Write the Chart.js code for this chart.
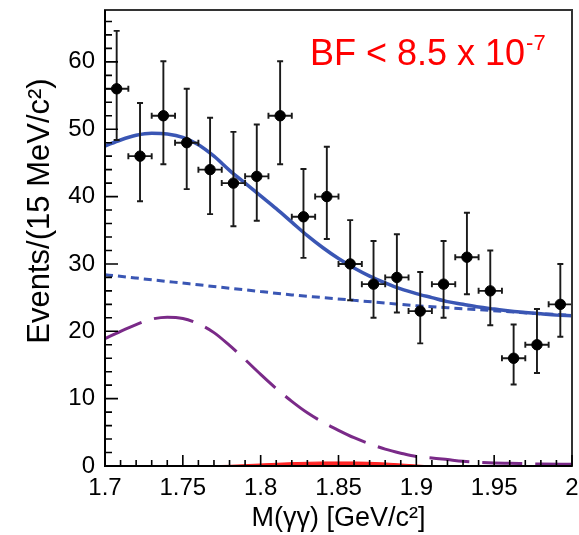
<!DOCTYPE html>
<html><head><meta charset="utf-8">
<script src="https://cdn.jsdelivr.net/npm/chart.js@4/dist/chart.umd.min.js"></script>
<style>html,body{margin:0;padding:0;background:#fff;}#wrap{width:579px;height:535px;}</style>
</head><body><div id="wrap"><canvas id="c" width="579" height="535"></canvas></div>
<script>
// ---- data ----
const binCenters = [1.7075,1.7225,1.7375,1.7525,1.7675,1.7825,1.7975,1.8125,1.8275,1.8425,
                    1.8575,1.8725,1.8875,1.9025,1.9175,1.9325,1.9475,1.9625,1.9775,1.9925];
const events   = [56,46,52,48,44,42,43,52,37,40,30,27,28,23,27,31,26,16,18,24];
const errUp    = [8.6,7.9,8.1,8.0,7.7,7.6,7.7,8.1,7.1,7.4,6.5,6.4,6.4,5.8,6.4,6.6,6.0,5.0,5.3,6.0];
const errDown  = [7.6,6.7,7.2,6.9,6.6,6.4,6.6,7.2,6.1,6.3,5.4,5.0,5.2,4.8,5.0,5.5,5.1,3.9,4.2,4.8];
const binHalfWidth = 0.0075;

const totalX = [1.70,1.71,1.72,1.73,1.74,1.75,1.76,1.77,1.78,1.79,1.80,1.81,1.82,1.83,1.84,1.85,1.86,1.87,1.88,1.89,1.90,1.91,1.92,1.93,1.94,1.95,1.96,1.97,1.98,1.99,2.00];
const totalY = [47.5,48.4,49.1,49.4,49.3,48.8,47.7,46.0,43.9,42.0,40.1,38.2,36.2,34.2,32.4,30.8,29.4,28.2,27.2,26.3,25.6,25.0,24.4,24.0,23.6,23.3,23.0,22.8,22.6,22.4,22.3];

const bkgX = [1.70,1.72,1.74,1.76,1.78,1.80,1.82,1.84,1.86,1.88,1.90,1.92,1.94,1.96,1.98,2.00];
const bkgY = [28.4,27.9,27.4,26.9,26.4,25.9,25.4,25.0,24.6,24.2,23.8,23.5,23.2,22.9,22.6,22.4];

const peakX = [1.70,1.71,1.72,1.73,1.74,1.75,1.76,1.77,1.78,1.79,1.80,1.81,1.82,1.83,1.84,1.85,1.86,1.87,1.88,1.89,1.90,1.91,1.92,1.93,1.94,1.95,1.96,1.98,2.00];
const peakY = [18.9,20.0,21.0,21.8,22.1,21.9,21.1,19.8,17.9,15.8,13.6,11.5,9.6,7.9,6.5,5.3,4.2,3.3,2.5,1.9,1.4,1.2,0.95,0.7,0.55,0.45,0.4,0.3,0.25];

const sigX = [1.76,1.77,1.78,1.79,1.80,1.81,1.82,1.83,1.84,1.85,1.86,1.87,1.88,1.89,1.90,1.91];
const sigY = [0.0,0.05,0.1,0.2,0.3,0.4,0.5,0.55,0.6,0.6,0.6,0.55,0.45,0.3,0.15,0.0];

const xTickValues = [1.7,1.75,1.8,1.85,1.9,1.95,2.0];
const xTickLabels = ['1.7','1.75','1.8','1.85','1.9','1.95','2'];
const yTickValues = [0,10,20,30,40,50,60];
const yTickLabels = ['0','10','20','30','40','50','60'];

const xTitle = 'M(γγ) [GeV/c²]';
const yTitle = 'Events/(15 MeV/c²)';
const bfText = 'BF < 8.5 x 10';
const bfExp = '-7';

// ---- chart ----
const FONT = "'Liberation Sans', Arial, Helvetica, sans-serif";
Chart.defaults.font.family = FONT;

const pts = (xs, ys) => xs.map((x, i) => ({x: x, y: ys[i]}));

const decor = {
  id: 'decor',
  beforeDatasetDraw(chart, args) {
    if (args.index !== 4) return;
    const ctx = chart.ctx, xs = chart.scales.x, ys = chart.scales.y;
    ctx.save();
    ctx.strokeStyle = '#1a1a1a';
    ctx.lineWidth = 1.9;
    const cap = 3;
    binCenters.forEach((c, i) => {
      const px = xs.getPixelForValue(c);
      const py = ys.getPixelForValue(events[i]);
      const pTop = ys.getPixelForValue(events[i] + errUp[i]);
      const pBot = ys.getPixelForValue(events[i] - errDown[i]);
      const pL = xs.getPixelForValue(c - binHalfWidth);
      const pR = xs.getPixelForValue(c + binHalfWidth);
      ctx.beginPath();
      ctx.moveTo(px, pTop); ctx.lineTo(px, pBot);
      ctx.moveTo(px - cap, pTop); ctx.lineTo(px + cap, pTop);
      ctx.moveTo(px - cap, pBot); ctx.lineTo(px + cap, pBot);
      ctx.moveTo(pL, py); ctx.lineTo(pR, py);
      ctx.moveTo(pL, py - cap); ctx.lineTo(pL, py + cap);
      ctx.moveTo(pR, py - cap); ctx.lineTo(pR, py + cap);
      ctx.stroke();
    });
    ctx.restore();
  },
  afterDraw(chart) {
    const ctx = chart.ctx, a = chart.chartArea, xs = chart.scales.x, ys = chart.scales.y;
    ctx.save();
    // frame
    ctx.strokeStyle = '#333';
    ctx.lineWidth = 2;
    ctx.strokeRect(a.left, a.top, a.right - a.left, a.bottom - a.top);
    ctx.strokeStyle = '#000';
    ctx.beginPath();
    ctx.moveTo(a.left, a.top); ctx.lineTo(a.left, a.bottom); ctx.lineTo(a.right, a.bottom);
    ctx.stroke();
    // ticks
    ctx.lineWidth = 1.6;
    ctx.beginPath();
    for (let k = 0; k <= 30; k++) {
      const v = 1.7 + k * 0.01;
      const px = xs.getPixelForValue(v);
      const len = (k % 5 === 0) ? 11 : 6;
      ctx.moveTo(px, a.bottom); ctx.lineTo(px, a.bottom - len);
    }
    for (let v = 0; v <= 66; v += 2) {
      const py = ys.getPixelForValue(v);
      const len = (v % 10 === 0) ? 13 : 7;
      ctx.moveTo(a.left, py); ctx.lineTo(a.left + len, py);
    }
    ctx.stroke();
    // y title
    ctx.fillStyle = '#000';
    ctx.font = '31px ' + FONT;
    ctx.textAlign = 'center';
    ctx.textBaseline = 'middle';
    ctx.translate(40, 211);
    ctx.rotate(-Math.PI / 2);
    ctx.fillText(yTitle, 0, 0);
    ctx.restore();
    // BF label
    ctx.save();
    ctx.fillStyle = '#ff0000';
    ctx.font = '36px ' + FONT;
    ctx.textAlign = 'left';
    ctx.textBaseline = 'alphabetic';
    ctx.fillText(bfText, 310, 65);
    const w = ctx.measureText(bfText).width;
    ctx.font = '22px ' + FONT;
    ctx.fillText(bfExp, 310 + w + 1, 50);
    ctx.restore();
  }
};

const zeroPad = s => { s.paddingTop = 0; s.paddingBottom = 0; s.paddingLeft = 0; s.paddingRight = 0; };

new Chart(document.getElementById('c').getContext('2d'), {
  type: 'scatter',
  data: {
    datasets: [
      { type: 'line', data: pts(sigX, sigY), borderColor: '#ff2020', backgroundColor: 'rgba(255,0,0,0.85)',
        borderWidth: 1, fill: 'origin', pointRadius: 0, cubicInterpolationMode: 'monotone', order: 5 },
      { type: 'line', data: pts(peakX, peakY), borderColor: '#7a2a88', borderWidth: 3, borderDash: [40, 13],
        fill: false, pointRadius: 0, cubicInterpolationMode: 'monotone', order: 4 },
      { type: 'line', data: pts(bkgX, bkgY), borderColor: '#3a56b4', borderWidth: 3, borderDash: [8, 5],
        fill: false, pointRadius: 0, cubicInterpolationMode: 'monotone', order: 3 },
      { type: 'line', data: pts(totalX, totalY), borderColor: '#3a56b4', borderWidth: 3.5,
        fill: false, pointRadius: 0, cubicInterpolationMode: 'monotone', order: 2 },
      { type: 'scatter', data: pts(binCenters, events), backgroundColor: '#000', borderColor: '#000',
        pointRadius: 5.2, pointHoverRadius: 5.2, order: 0 }
    ]
  },
  options: {
    responsive: false, animation: false, devicePixelRatio: 1,
    layout: { padding: { left: 0, right: 7, top: 10, bottom: 0 } },
    plugins: { legend: { display: false }, tooltip: { enabled: false } },
    scales: {
      x: {
        type: 'linear', min: 1.7, max: 2.0,
        afterBuildTicks: s => { s.ticks = xTickValues.map(v => ({ value: v })); },
        ticks: { callback: (v, i) => xTickLabels[i], font: { size: 24 }, color: '#000', padding: 8,
                 maxRotation: 0, autoSkip: false },
        grid: { display: false, drawTicks: false },
        border: { display: false },
        title: { display: true, text: xTitle, font: { size: 27 }, color: '#000', padding: { top: 0, bottom: 0 } },
        afterFit: s => { s.height = 69; zeroPad(s); }
      },
      y: {
        min: 0, max: 67.7,
        afterBuildTicks: s => { s.ticks = yTickValues.map(v => ({ value: v })); },
        ticks: { callback: (v, i) => yTickLabels[i], font: { size: 24 }, color: '#000', padding: 10, autoSkip: false },
        grid: { display: false, drawTicks: false },
        border: { display: false },
        afterFit: s => { s.width = 105; zeroPad(s); }
      }
    }
  },
  plugins: [decor]
});
</script>
</body></html>
